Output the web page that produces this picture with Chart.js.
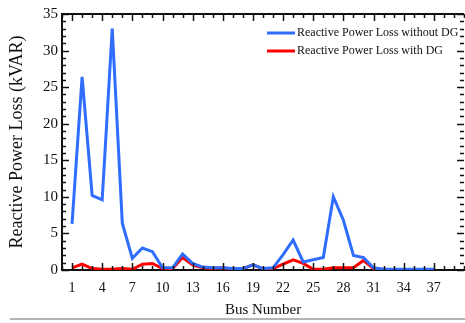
<!DOCTYPE html>
<html><head><meta charset="utf-8">
<script src="https://cdn.jsdelivr.net/npm/chart.js@4"></script>
<style>html,body{margin:0;padding:0;background:#fff;overflow:hidden}#w{width:465px;height:323px;position:relative}</style>
</head><body><div id="w"><canvas id="c" width="465" height="323"></canvas></div>
<script>
const buses = [1,2,3,4,5,6,7,8,9,10,11,12,13,14,15,16,17,18,19,20,21,22,23,24,25,26,27,28,29,30,31,32,33,34,35,36,37];
const withoutDG = [6.3,26.4,10.2,9.6,33.0,6.4,1.6,3.0,2.5,0.3,0.3,2.2,0.9,0.4,0.3,0.3,0.2,0.2,0.7,0.2,0.3,2.1,4.1,1.1,1.4,1.7,10.0,6.8,2.0,1.7,0.3,0.1,0.1,0.1,0.1,0.1,0.1];
const withDG = [0.3,0.8,0.2,0.1,0.1,0.2,0.1,0.8,0.9,0.2,0.2,1.7,0.7,0.3,0.2,0.3,0.1,0.2,0.7,0.2,0.2,0.8,1.4,0.9,0.1,0.1,0.3,0.3,0.3,1.3,0.2,0.05,0,0,0,0,0];
const xTickLabels = [1,4,7,10,13,16,19,22,25,28,31,34,37];
const yTickLabels = [0,5,10,15,20,25,30,35];
const seriesNames = ['Reactive Power Loss without DG','Reactive Power Loss with DG'];
const seriesColors = ['#2f6dff','#ff0000'];

const FONT = "'Liberation Serif','Times New Roman',serif";

const tickPlugin = {
  id: 'inwardTicks',
  afterDraw(chart) {
    const ctx = chart.ctx, xs = chart.scales.x, ys = chart.scales.y, a = chart.chartArea;
    ctx.save();
    ctx.strokeStyle = '#111';
    ctx.lineWidth = 1.5;
    ctx.beginPath();
    for (let v = Math.ceil(xs.min); v <= xs.max; v++) {
      const px = Math.round(xs.getPixelForValue(v)) + 0.5;
      const len = xTickLabels.includes(v) ? 7 : 4;
      ctx.moveTo(px, a.bottom); ctx.lineTo(px, a.bottom - len);
      ctx.moveTo(px, a.top); ctx.lineTo(px, a.top + len);
    }
    for (let v = ys.min; v <= ys.max; v++) {
      const py = Math.round(ys.getPixelForValue(v)) + 0.5;
      const len = yTickLabels.includes(v) ? 7 : 4;
      ctx.moveTo(a.left, py); ctx.lineTo(a.left + len, py);
      ctx.moveTo(a.right, py); ctx.lineTo(a.right - len, py);
    }
    ctx.stroke();
    ctx.lineWidth = 2;
    ctx.beginPath();
    ctx.moveTo(a.left, a.top); ctx.lineTo(a.right, a.top);
    ctx.stroke();
    ctx.font = '12px ' + FONT;
    ctx.textBaseline = 'middle';
    ctx.fillStyle = '#111';
    chart.data.datasets.forEach((ds, i) => {
      const y = 33 + i * 18;
      ctx.strokeStyle = ds.borderColor;
      ctx.lineWidth = 3;
      ctx.beginPath();
      ctx.moveTo(267, y); ctx.lineTo(295, y);
      ctx.stroke();
      ctx.fillText(ds.label, 297, y);
    });
    ctx.strokeStyle = '#b4b4b4';
    ctx.lineWidth = 2;
    ctx.beginPath();
    ctx.moveTo(10, 319); ctx.lineTo(465, 319);
    ctx.stroke();
    ctx.restore();
  }
};

new Chart(document.getElementById('c'), {
  type: 'line',
  data: {
    datasets: [
      { label: seriesNames[0], data: buses.map((b, i) => ({x: b, y: withoutDG[i]})), borderColor: seriesColors[0], borderWidth: 3, pointRadius: 0, tension: 0, fill: false },
      { label: seriesNames[1], data: buses.map((b, i) => ({x: b, y: withDG[i]})), borderColor: seriesColors[1], borderWidth: 3, pointRadius: 0, tension: 0, fill: false }
    ]
  },
  options: {
    responsive: false,
    animation: false,
    layout: { padding: { top: 14, right: 1, left: 0, bottom: 4 } },
    plugins: { legend: { display: false }, tooltip: { enabled: false } },
    scales: {
      x: {
        type: 'linear', min: 0, max: 40,
        afterFit(s) { s.height = 49; },
        afterBuildTicks(s) { s.ticks = xTickLabels.map(v => ({value: v})); },
        grid: { display: false, drawTicks: false },
        border: { display: true, color: '#111', width: 2 },
        ticks: { color: '#111', font: { family: FONT, size: 14 }, padding: 10, maxRotation: 0, autoSkip: false },
        title: { display: true, text: 'Bus Number', color: '#111', font: { family: FONT, size: 15 }, padding: { top: 0, bottom: 0 } }
      },
      y: {
        min: 0, max: 35,
        afterFit(s) { s.width = 62; },
        afterBuildTicks(s) { s.ticks = yTickLabels.map(v => ({value: v})); },
        grid: { display: false, drawTicks: false },
        border: { display: true, color: '#111', width: 2 },
        ticks: { color: '#111', font: { family: FONT, size: 15 }, padding: 4 },
        title: { display: true, text: 'Reactive Power Loss (kVAR)', color: '#111', font: { family: FONT, size: 18 }, padding: { top: 6, bottom: 0 } }
      }
    }
  },
  plugins: [tickPlugin]
});
</script></body></html>
